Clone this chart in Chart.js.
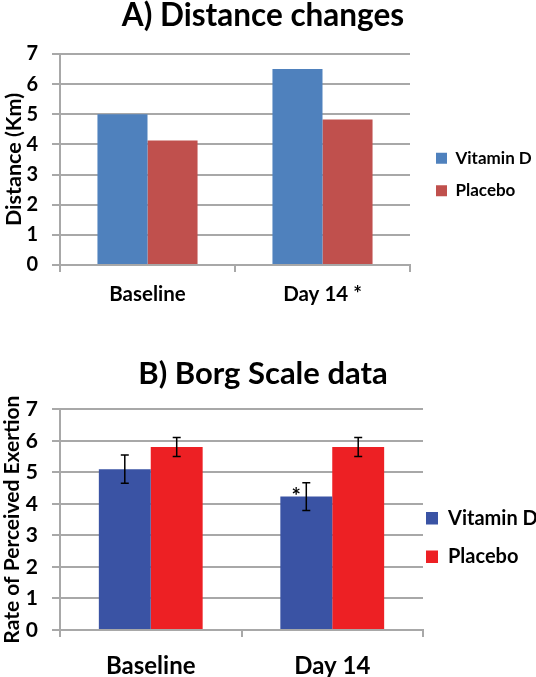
<!DOCTYPE html>
<html>
<head>
<meta charset="utf-8">
<script src="https://cdn.jsdelivr.net/npm/chart.js@4.4.1/dist/chart.umd.min.js"></script>
<style>
  body { margin: 0; background: #fff; overflow: hidden; }
  .box { position: absolute; left: 0; width: 536px; }
  #boxA { top: 0; height: 305px; }
  #boxB { top: 318px; height: 359px; }
</style>
</head>
<body>
<div class="box" id="boxA"><canvas id="distanceChart"></canvas></div>
<div class="box" id="boxB"><canvas id="borgChart"></canvas></div>
<script>
// Panel A: distance (km)
const distanceLabels = ['Baseline', 'Day 14 *'];
const distanceVitD = [5.0, 6.5];
const distancePlacebo = [4.13, 4.83];

// Panel B: Borg scale (RPE), mean and error
const borgLabels = ['Baseline', 'Day 14'];
const borgVitD = [5.1, 4.23];
const borgVitDErr = [0.45, 0.44];
const borgPlacebo = [5.8, 5.8];
const borgPlaceboErr = [0.3, 0.3];
const borgVitDMarks = ['', '*'];

const axisMin = 0;
const axisMax = 7;
const axisStep = 1;

Chart.defaults.font.family = 'Lato';
Chart.defaults.font.weight = 'bold';
Chart.defaults.color = '#000';

const gridColor = '#a8a8a8';

// draws error bars (and any significance mark) from dataset.errors / dataset.marks
const errorBars = {
    id: 'errorBars',
    afterDatasetsDraw(chart) {
        const ctx = chart.ctx;
        const y = chart.scales.y;
        ctx.save();
        ctx.strokeStyle = '#000';
        ctx.fillStyle = '#000';
        ctx.lineWidth = 1.5;
        chart.data.datasets.forEach((ds, i) => {
            if (!ds.errors) return;
            chart.getDatasetMeta(i).data.forEach((bar, j) => {
                const v = ds.data[j];
                const e = ds.errors[j];
                const top = y.getPixelForValue(v + e);
                const bottom = y.getPixelForValue(v - e);
                ctx.beginPath();
                ctx.moveTo(bar.x, top);
                ctx.lineTo(bar.x, bottom);
                ctx.moveTo(bar.x - 4, top);
                ctx.lineTo(bar.x + 4, top);
                ctx.moveTo(bar.x - 4, bottom);
                ctx.lineTo(bar.x + 4, bottom);
                ctx.stroke();
                if (ds.marks && ds.marks[j]) {
                    ctx.font = 'bold 22px Lato';
                    ctx.textAlign = 'center';
                    ctx.textBaseline = 'alphabetic';
                    ctx.fillText(ds.marks[j], bar.x - 10, y.getPixelForValue(v) + 7);
                }
            });
        });
        ctx.restore();
    }
};

// nudges the legend box after layout, keeping its right edge at the canvas edge
const legendShift = {
    id: 'legendShift',
    afterLayout(chart, args, opts) {
        chart.legend.left += opts.x || 0;
        chart.legend.right = chart.width;
        chart.legend.top += opts.y || 0;
        chart.legend.bottom += opts.y || 0;
    }
};

function yAxis(titleText, tickSize, titleSize, titlePad) {
    return {
        min: axisMin,
        max: axisMax,
        afterFit: s => { s.width = 60; },
        ticks: { stepSize: axisStep, padding: 14, font: { size: tickSize } },
        grid: { color: gridColor, lineWidth: 2, tickLength: 8 },
        border: { color: gridColor, width: 2 },
        title: { display: true, text: titleText, font: { size: titleSize }, padding: titlePad }
    };
}

function xAxis(tickSize, pad, height) {
    return {
        afterFit: s => { s.height = height; },
        ticks: { padding: pad, font: { size: tickSize } },
        grid: { color: gridColor, lineWidth: 2, tickLength: 7, offset: true, drawOnChartArea: false },
        border: { color: gridColor, width: 2 }
    };
}

new Chart(document.getElementById('distanceChart'), {
    type: 'bar',
    data: {
        labels: distanceLabels,
        datasets: [{
            label: 'Vitamin D',
            data: distanceVitD,
            backgroundColor: '#4f81bd',
            categoryPercentage: 0.572,
            barPercentage: 1
        }, {
            label: 'Placebo',
            data: distancePlacebo,
            backgroundColor: '#c0504d',
            categoryPercentage: 0.572,
            barPercentage: 1
        }]
    },
    plugins: [legendShift],
    options: {
        responsive: true,
        maintainAspectRatio: false,
        animation: false,
        layout: { padding: { left: 0, right: 10, top: 0, bottom: 0 } },
        scales: {
            x: xAxis(20.5, 10, 40),
            y: yAxis('Distance (Km)', 20, 21.5, { top: 1, bottom: 2 })
        },
        plugins: {
            title: {
                display: true,
                text: 'A) Distance changes',
                font: { size: 31.5, lineHeight: 1 },
                padding: { top: 0, bottom: 22.5 }
            },
            legend: {
                position: 'right',
                maxWidth: 116,
                labels: { boxWidth: 11, boxHeight: 11, padding: 15.4, font: { size: 17 } }
            },
            legendShift: { x: 10.6, y: 22 },
            tooltip: { enabled: false }
        }
    }
});

new Chart(document.getElementById('borgChart'), {
    type: 'bar',
    data: {
        labels: borgLabels,
        datasets: [{
            label: 'Vitamin D',
            data: borgVitD,
            errors: borgVitDErr,
            marks: borgVitDMarks,
            backgroundColor: '#3a53a4',
            categoryPercentage: 0.572,
            barPercentage: 1
        }, {
            label: 'Placebo',
            data: borgPlacebo,
            errors: borgPlaceboErr,
            backgroundColor: '#ed2024',
            categoryPercentage: 0.572,
            barPercentage: 1
        }]
    },
    plugins: [errorBars, legendShift],
    options: {
        responsive: true,
        maintainAspectRatio: false,
        animation: false,
        layout: { padding: { left: 0, right: 10, top: 0, bottom: 0 } },
        scales: {
            x: xAxis(24, 15, 47),
            y: yAxis('Rate of Perceived Exertion', 21, 21, { top: 0, bottom: 1 })
        },
        plugins: {
            title: {
                display: true,
                text: 'B) Borg Scale data',
                font: { size: 31 },
                padding: { top: 37, bottom: 17 }
            },
            legend: {
                position: 'right',
                maxWidth: 103,
                labels: { boxWidth: 12, boxHeight: 12.5, padding: 18.7, font: { size: 20 } }
            },
            legendShift: { x: -15.7, y: 40 },
            tooltip: { enabled: false }
        }
    }
});
</script>
</body>
</html>
